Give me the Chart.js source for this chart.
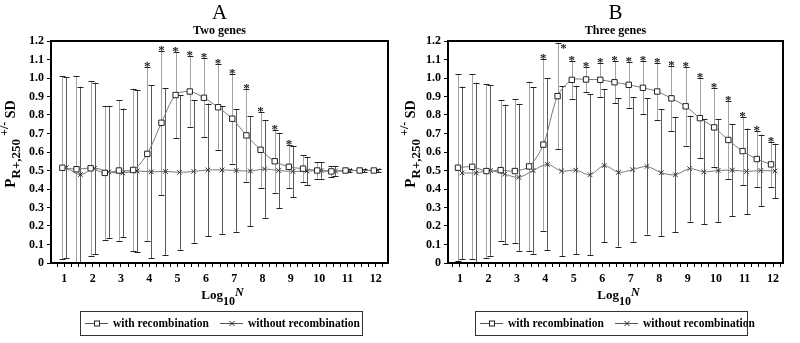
<!DOCTYPE html>
<html>
<head>
<meta charset="utf-8">
<script src="https://cdn.jsdelivr.net/npm/chart.js@4.4.0/dist/chart.umd.min.js"></script>
<style>
  html, body { margin: 0; padding: 0; background: #fff; }
  #wrap { position: relative; width: 800px; height: 343px; }
  #wrap canvas { position: absolute; top: 0; }
</style>
</head>
<body>
<div id="wrap">
  <canvas id="chartA" width="400" height="343" style="left:0"></canvas>
  <canvas id="chartB" width="400" height="343" style="left:400px"></canvas>
</div>
<script>
/* x positions (log10 N) */
const logN = [1, 1.5, 2, 2.5, 3, 3.5, 4, 4.5, 5, 5.5, 6, 6.5, 7, 7.5, 8, 8.5, 9, 9.5, 10, 10.5, 11, 11.5, 12];
const xTickLabels = ['1', '2', '3', '4', '5', '6', '7', '8', '9', '10', '11', '12'];
const yTickLabels = ['0', '0.1', '0.2', '0.3', '0.4', '0.5', '0.6', '0.7', '0.8', '0.9', '1.0', '1.1', '1.2'];

/* A - two genes */
const twoWithMean = [0.515, 0.507, 0.512, 0.487, 0.500, 0.503, 0.590, 0.758, 0.908, 0.927, 0.893, 0.842, 0.780, 0.690, 0.612, 0.550, 0.520, 0.510, 0.500, 0.495, 0.500, 0.500, 0.500];
const twoWithSd = [0.495, 0.505, 0.472, 0.363, 0.380, 0.440, 0.470, 0.390, 0.233, 0.190, 0.213, 0.233, 0.243, 0.250, 0.205, 0.170, 0.117, 0.073, 0.044, 0.030, 0.010, 0.008, 0.006];
const twoWithoutMean = [0.515, 0.478, 0.512, 0.492, 0.487, 0.497, 0.493, 0.495, 0.490, 0.495, 0.503, 0.503, 0.500, 0.497, 0.508, 0.500, 0.495, 0.497, 0.500, 0.497, 0.500, 0.500, 0.500];
const twoWithoutSd = [0.490, 0.475, 0.463, 0.358, 0.348, 0.439, 0.467, 0.451, 0.418, 0.385, 0.359, 0.345, 0.330, 0.298, 0.263, 0.204, 0.140, 0.078, 0.044, 0.028, 0.010, 0.008, 0.006];
const twoSignificant = [0, 0, 0, 0, 0, 0, 1, 1, 1, 1, 1, 1, 1, 1, 1, 1, 1, 0, 0, 0, 0, 0, 0];

/* B - three genes */
const threeWithMean = [0.515, 0.520, 0.497, 0.502, 0.497, 0.522, 0.640, 0.902, 0.990, 0.992, 0.990, 0.977, 0.963, 0.947, 0.927, 0.890, 0.847, 0.783, 0.733, 0.665, 0.605, 0.562, 0.533];
const threeWithSd = [0.505, 0.499, 0.469, 0.381, 0.389, 0.459, 0.465, 0.288, 0.102, 0.070, 0.092, 0.114, 0.124, 0.144, 0.156, 0.177, 0.212, 0.218, 0.214, 0.213, 0.186, 0.153, 0.120];
const threeWithoutMean = [0.487, 0.487, 0.500, 0.480, 0.463, 0.500, 0.533, 0.497, 0.502, 0.477, 0.527, 0.490, 0.505, 0.522, 0.488, 0.477, 0.510, 0.493, 0.500, 0.502, 0.495, 0.500, 0.497];
const threeWithoutSd = [0.467, 0.488, 0.460, 0.376, 0.397, 0.451, 0.465, 0.460, 0.456, 0.436, 0.414, 0.401, 0.390, 0.368, 0.342, 0.310, 0.286, 0.283, 0.279, 0.249, 0.232, 0.194, 0.148];
const threeSignificant = [0, 0, 0, 0, 0, 0, 1, 1, 1, 1, 1, 1, 1, 1, 1, 1, 1, 1, 1, 1, 1, 1, 1];

const SERIF = "'Liberation Serif', 'Times New Roman', serif";
const SHIFT = 0.07;   // side-by-side offset of the two series
const quarterTicks = [];
for (let v = 0.75; v <= 12.25; v += 0.25) quarterTicks.push(v);

function points(means, shift) {
    return logN.map((x, i) => ({ x: x + shift, y: means[i] }));
}

/* error bars, asterisks, titles and the boxed legend */
function decorations(cfg) {
    return {
        id: 'decorations',
        beforeDatasetsDraw(chart) {
            const { ctx, chartArea: area, scales: { x, y } } = chart;
            ctx.save();
            chart.data.datasets.forEach(ds => {
                ds.data.forEach((p, i) => {
                    const px = Math.round(x.getPixelForValue(p.x)) + 0.5;
                    const top = y.getPixelForValue(p.y + ds.sd[i]);
                    const bot = y.getPixelForValue(p.y - ds.sd[i]);
                    ctx.strokeStyle = ds.barColor;
                    ctx.lineWidth = 1;
                    ctx.beginPath();
                    ctx.moveTo(px, Math.max(top, area.top));
                    ctx.lineTo(px, Math.min(bot, area.bottom));
                    ctx.stroke();
                    ctx.strokeStyle = '#222';
                    ctx.beginPath();
                    [top, bot].forEach(cy => {
                        if (cy >= area.top && cy <= area.bottom) {
                            const yy = Math.round(cy) + 0.5;
                            ctx.moveTo(px - 3, yy);
                            ctx.lineTo(px + 3, yy);
                        }
                    });
                    ctx.stroke();
                });
            });
            ctx.restore();
        },
        afterDraw(chart) {
            const { ctx, chartArea: area, scales: { x, y } } = chart;
            const cx = (area.left + area.right) / 2;
            ctx.save();

            // frame around the plot
            ctx.strokeStyle = '#000';
            ctx.lineWidth = 2;
            ctx.strokeRect(area.left, area.top, area.right - area.left, area.bottom - area.top);

            // asterisks over significant points
            const rec = chart.data.datasets[0];
            ctx.fillStyle = '#222';
            ctx.font = `bold 13px ${SERIF}`;
            ctx.textAlign = 'center';
            ctx.textBaseline = 'alphabetic';
            cfg.significant.forEach((s, i) => {
                if (!s) return;
                const p = rec.data[i];
                let px = x.getPixelForValue(p.x);
                let py = y.getPixelForValue(p.y + rec.sd[i]) + 3;
                if (py - 9 < area.top) {
                    px += 6;
                    py = area.top + 11;
                }
                ctx.fillText('*', px, py);
            });

            // panel letter and subtitle
            ctx.fillStyle = '#000';
            ctx.font = `21px ${SERIF}`;
            ctx.fillText(cfg.letter, cx, 19);
            ctx.font = `bold 12px ${SERIF}`;
            ctx.fillText(cfg.subtitle, cx, 34);

            // x axis title: Log10N
            const xParts = [
                { t: 'Log', font: `bold 13px ${SERIF}`, dy: 0 },
                { t: '10', font: `bold 12px ${SERIF}`, dy: 6 },
                { t: 'N', font: `italic bold 12px ${SERIF}`, dy: -3 }
            ];
            drawParts(ctx, xParts, cx + 3, 299);

            // y axis title: P R+,250 +/- SD
            const yParts = [
                { t: 'P', font: `bold 15px ${SERIF}`, dy: 0 },
                { t: 'R+,250', font: `bold 13px ${SERIF}`, dy: 5 },
                { t: ' +/-', font: `bold 12px ${SERIF}`, dy: -7 },
                { t: ' SD', font: `bold 14px ${SERIF}`, dy: 0 }
            ];
            ctx.translate(15, (area.top + area.bottom) / 2 - 8);
            ctx.rotate(-Math.PI / 2);
            drawParts(ctx, yParts, 0, 0);
            ctx.setTransform(1, 0, 0, 1, 0, 0);

            // legend
            const bx = cfg.legendX, by = 311, bw = cfg.legendW, bh = 24;
            ctx.strokeStyle = '#333';
            ctx.lineWidth = 1;
            ctx.strokeRect(bx + 0.5, by + 0.5, bw, bh);
            const ly = by + bh / 2 + 0.5;
            const items = [
                { label: chart.data.datasets[0].label, lx: bx + 5, marker: 'rect' },
                { label: chart.data.datasets[1].label, lx: bx + 140, marker: 'cross' }
            ];
            ctx.font = `bold 11.5px ${SERIF}`;
            ctx.textAlign = 'left';
            ctx.textBaseline = 'middle';
            items.forEach(it => {
                ctx.strokeStyle = '#555';
                ctx.beginPath();
                ctx.moveTo(it.lx, ly);
                ctx.lineTo(it.lx + 23, ly);
                ctx.stroke();
                const mx = it.lx + 12;
                ctx.strokeStyle = '#222';
                if (it.marker === 'rect') {
                    ctx.fillStyle = '#fff';
                    ctx.fillRect(mx - 2.5, ly - 2.5, 5, 5);
                    ctx.strokeRect(mx - 2.5, ly - 2.5, 5, 5);
                } else {
                    ctx.beginPath();
                    ctx.moveTo(mx - 2.5, ly - 2.5); ctx.lineTo(mx + 2.5, ly + 2.5);
                    ctx.moveTo(mx + 2.5, ly - 2.5); ctx.lineTo(mx - 2.5, ly + 2.5);
                    ctx.stroke();
                }
                ctx.fillStyle = '#000';
                ctx.fillText(it.label, it.lx + 28, ly + 1);
            });
            ctx.restore();
        }
    };
}

/* draws text pieces with baseline shifts, centered on (cx, cy) */
function drawParts(ctx, parts, cx, cy) {
    ctx.textAlign = 'left';
    ctx.textBaseline = 'alphabetic';
    let total = 0;
    parts.forEach(p => { ctx.font = p.font; p.w = ctx.measureText(p.t).width; total += p.w; });
    let px = cx - total / 2;
    parts.forEach(p => {
        ctx.font = p.font;
        ctx.fillText(p.t, px, cy + p.dy);
        px += p.w;
    });
}

function buildChart(id, cfg) {
    const ctx = document.getElementById(id).getContext('2d');
    const tickFont = { family: SERIF, size: 12, weight: 'bold' };
    return new Chart(ctx, {
        type: 'line',
        data: {
            datasets: [{
                label: 'with recombination',
                data: points(cfg.withMean, -SHIFT),
                sd: cfg.withSd,
                barColor: '#a3a3a3',
                borderColor: '#777',
                borderWidth: 1,
                tension: 0.3,
                pointStyle: 'rect',
                pointRadius: 3.8,
                pointBackgroundColor: '#fff',
                pointBorderColor: '#222',
                pointBorderWidth: 1
            }, {
                label: 'without recombination',
                data: points(cfg.withoutMean, SHIFT),
                sd: cfg.withoutSd,
                barColor: '#5a5a5a',
                borderColor: '#777',
                borderWidth: 1,
                tension: 0.3,
                pointStyle: 'crossRot',
                pointRadius: 3.3,
                pointBorderColor: '#333',
                pointBorderWidth: 1
            }]
        },
        options: {
            responsive: false,
            animation: false,
            layout: { padding: { left: 0, right: cfg.padRight, top: 41, bottom: 0 } },
            plugins: {
                legend: { display: false },
                tooltip: { enabled: false }
            },
            scales: {
                x: {
                    type: 'linear',
                    min: cfg.xMin,
                    max: cfg.xMax,
                    afterBuildTicks: s => { s.ticks = quarterTicks.map(v => ({ value: v })); },
                    afterFit: s => { s.height = 80; },
                    border: { display: true, color: '#000', width: 2 },
                    grid: { drawOnChartArea: false, drawTicks: true, tickLength: 4, color: '#000', lineWidth: 1 },
                    ticks: {
                        autoSkip: false,
                        maxRotation: 0,
                        color: '#000',
                        padding: 5,
                        font: tickFont,
                        callback: v => Number.isInteger(v) ? xTickLabels[v - 1] : ''
                    }
                },
                y: {
                    min: 0,
                    max: 1.2,
                    afterBuildTicks: s => { s.ticks = yTickLabels.map(t => ({ value: parseFloat(t) })); },
                    afterFit: s => { s.width = cfg.axisLeft; },
                    border: { display: true, color: '#000', width: 2 },
                    grid: { drawOnChartArea: false, drawTicks: true, tickLength: 4, color: '#000', lineWidth: 1 },
                    ticks: {
                        color: '#000',
                        padding: 3,
                        font: tickFont,
                        callback: (v, i) => yTickLabels[i]
                    }
                }
            }
        },
        plugins: [decorations(cfg)]
    });
}

buildChart('chartA', {
    letter: 'A', subtitle: 'Two genes',
    withMean: twoWithMean, withSd: twoWithSd,
    withoutMean: twoWithoutMean, withoutSd: twoWithoutSd,
    significant: twoSignificant,
    xMin: 0.53, xMax: 12.43, axisLeft: 51, padRight: 12,
    legendX: 80, legendW: 282
});

buildChart('chartB', {
    letter: 'B', subtitle: 'Three genes',
    withMean: threeWithMean, withSd: threeWithSd,
    withoutMean: threeWithoutMean, withoutSd: threeWithoutSd,
    significant: threeSignificant,
    xMin: 0.58, xMax: 12.35, axisLeft: 48, padRight: 17,
    legendX: 75, legendW: 272
});
</script>
</body>
</html>
